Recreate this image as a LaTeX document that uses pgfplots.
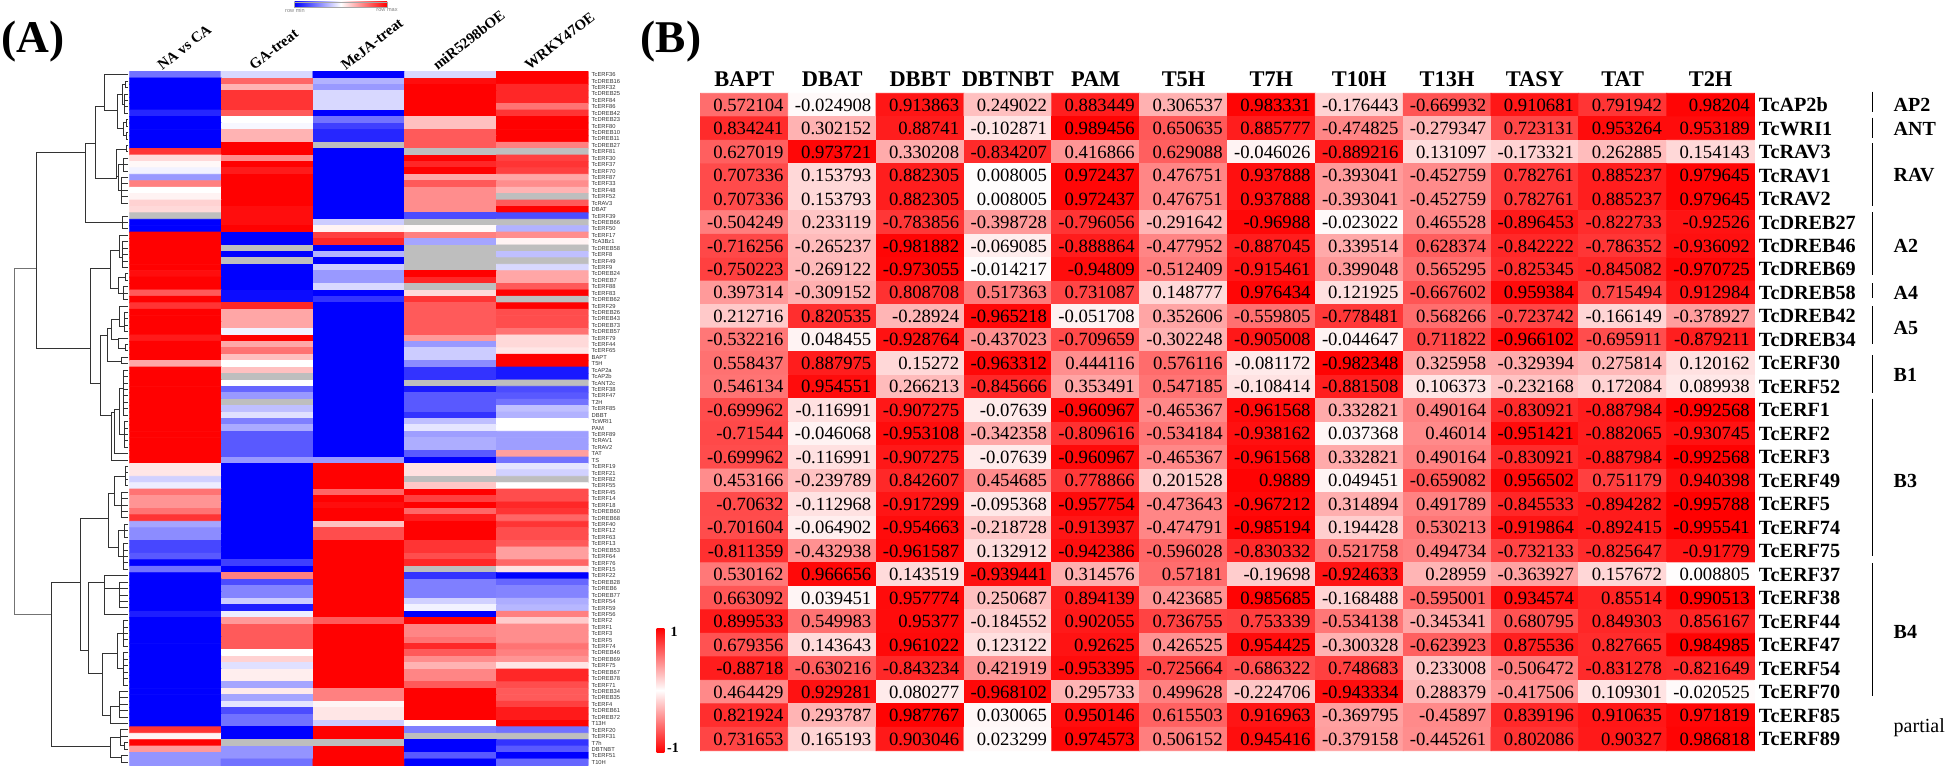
\documentclass[border=0pt]{standalone}
\usepackage{pgfplots}
\usepackage{pgfplotstable}
\usepackage{fontspec}
\pgfplotsset{compat=1.18}
\setmainfont{Liberation Serif}
\newfontfamily\sansf{Liberation Sans}
% colormap of panel A: -3 is "no value" (grey), -1 blue, 0 white, 1 red
\pgfplotsset{colormap={ha}{rgb255=(190,190,190) rgb255=(190,190,190) rgb255=(0,0,255) rgb255=(255,255,255) rgb255=(255,0,0)}}
\pgfplotsset{colormap={hb}{rgb255=(255,0,0) rgb255=(255,255,255) rgb255=(255,0,0)}}
% panel A, one line per row, five values per line; -3 = grey
\pgfplotstableread[row sep=\\]{v\\
-0.55\\-0.15\\-1\\-0.15\\1\\
-1\\0.6\\-0.3\\0.95\\1\\
-1\\0.3\\-0.4\\1\\0.85\\
-1\\0.8\\-0.15\\1\\0.85\\
-1\\0.8\\-0.15\\1\\0.85\\
-1\\0.8\\-0.15\\1\\0.55\\
-0.85\\0.65\\-1\\1\\0.8\\
-1\\0\\-0.55\\0.25\\1\\
-1\\-0.03\\-0.75\\0.25\\1\\
-1\\0.3\\-0.85\\0.65\\1\\
-1\\0.3\\-0.85\\0.65\\1\\
-1\\1\\-3\\0.65\\0.5\\
0.8\\1\\-1\\-3\\-3\\
0.15\\0.45\\-1\\1\\0.75\\
0.03\\1\\-1\\0.85\\0.8\\
-0.05\\0.9\\-1\\1\\0.75\\
-0.4\\1\\-1\\0.35\\0.35\\
0.5\\1\\-1\\0.65\\0.45\\
0\\1\\-1\\0.45\\0.3\\
0.05\\1\\-1\\0.45\\-3\\
0.18\\1\\-1\\0.45\\0.65\\
0.15\\0.95\\-1\\0.45\\1\\
-3\\0.95\\-1\\-0.7\\-0.7\\
-1\\0.95\\-0.2\\-3\\-3\\
-1\\1\\0.05\\0.02\\-0.3\\
1\\-1\\0.75\\0.5\\0.45\\
1\\-1\\0.85\\-0.35\\0.05\\
1\\-3\\-1\\-3\\-3\\
1\\-1\\-0.3\\-3\\-0.25\\
1\\-3\\-1\\-3\\-3\\
1\\-1\\-0.2\\-3\\-0.15\\
0.95\\-1\\-0.4\\1\\0.35\\
1\\-1\\-0.4\\0.85\\0.35\\
1\\-1\\-0.15\\-3\\0.65\\
0.65\\-0.95\\-1\\0.15\\1\\
1\\-0.95\\-0.8\\0.8\\-3\\
0.8\\0.85\\-1\\0.65\\1\\
1\\0.35\\-1\\0.65\\0.7\\
1\\0.35\\-1\\0.65\\0.7\\
1\\0.35\\-1\\0.65\\0.7\\
1\\-0.05\\-1\\0.65\\0.55\\
0.9\\1\\-1\\0.4\\0.15\\
1\\0.35\\-1\\-0.4\\0.15\\
1\\0.55\\-1\\-0.2\\0.1\\
1\\0.25\\-1\\-0.2\\1\\
0.35\\0\\-1\\-0.45\\1\\
1\\0.25\\-1\\-0.8\\-0.9\\
1\\-3\\-1\\-0.8\\-0.9\\
1\\0\\-1\\-3\\-3\\
1\\-0.6\\-1\\-0.9\\-0.7\\
1\\-0.4\\-1\\-0.65\\-0.65\\
1\\-3\\-1\\-0.65\\-0.55\\
1\\-0.25\\-1\\-0.65\\-0.25\\
1\\-0.12\\-1\\-0.8\\-0.3\\
1\\-0.5\\-1\\-0.25\\0\\
1\\-0.33\\-1\\-0.1\\0\\
1\\-0.65\\-1\\-0.38\\-0.38\\
1\\-0.65\\-1\\-0.32\\-0.38\\
1\\-0.65\\-1\\-0.32\\-0.38\\
1\\-0.65\\-1\\-0.65\\0.38\\
1\\-0.4\\-0.4\\-1\\-0.55\\
0.1\\-1\\1\\0.12\\-0.1\\
0.1\\-1\\1\\0.12\\-0.18\\
-0.18\\-1\\1\\-3\\-3\\
-0.07\\-1\\1\\0.22\\0\\
0.55\\-1\\0.6\\1\\0.7\\
0.42\\-1\\1\\0.75\\0.7\\
0.42\\-1\\0.95\\1\\0.85\\
0.55\\-1\\1\\0.6\\0.8\\
0.8\\-1\\1\\0.9\\0.6\\
-0.35\\-1\\0.25\\1\\0.8\\
-0.45\\-1\\0.7\\1\\0.7\\
-0.45\\-1\\0.7\\1\\0.7\\
-0.72\\-1\\1\\0.8\\0.65\\
-0.72\\-1\\1\\0.8\\0.38\\
-0.65\\-1\\1\\0.7\\0.38\\
-1\\-0.75\\1\\0.85\\0.6\\
-0.55\\-1\\1\\-3\\0.12\\
-1\\0.5\\1\\-0.8\\-1\\
-1\\-0.7\\1\\-0.5\\-0.6\\
-1\\-0.48\\1\\-0.5\\-0.48\\
-1\\-0.48\\1\\-0.5\\-0.48\\
-1\\-0.2\\1\\-0.18\\-0.32\\
-1\\-0.88\\1\\-0.05\\-0.28\\
-0.88\\-0.07\\1\\-1\\0.5\\
-1\\0.4\\0.65\\1\\0.2\\
-1\\0.65\\1\\0.48\\0.45\\
-1\\0.65\\1\\0.48\\0.45\\
-1\\0.65\\1\\0.55\\0.45\\
-1\\0.65\\1\\0.85\\0.55\\
-1\\0\\1\\0.65\\0.5\\
-1\\0.18\\1\\0.45\\0.42\\
-1\\-0.12\\1\\0.3\\0.1\\
-1\\0.07\\1\\0.48\\0.85\\
-1\\0.07\\1\\0.48\\0.85\\
-1\\-0.35\\1\\0.65\\0.7\\
-1\\0.08\\0.5\\1\\0.65\\
-1\\-0.35\\0.5\\1\\0.65\\
-1\\-0.1\\0.04\\1\\0.75\\
-1\\-0.7\\0.1\\1\\0.9\\
-1\\-0.55\\0.1\\1\\0.9\\
-1\\-0.55\\-0.2\\0\\1\\
0.8\\-1\\1\\-0.5\\-0.55\\
0.04\\-1\\1\\-3\\-3\\
1\\-3\\-3\\-1\\-0.8\\
0.4\\-0.42\\1\\-1\\-0.65\\
-0.42\\-0.42\\1\\-0.65\\-1\\
-0.42\\-0.55\\1\\-1\\-0.6\\
}\tabA
\pgfplotstablecreatecol[expr={floor((\pgfplotstablerow+0.5)/5)}]{cy}{\tabA}
\pgfplotstablecreatecol[expr={round(\pgfplotstablerow-5*\thisrow{cy})}]{cx}{\tabA}
% panel B, one line per row, twelve values per line
\pgfplotstableread[row sep=\\]{v\\
0.572104\\-0.024908\\0.913863\\0.249022\\0.883449\\0.306537\\0.983331\\-0.176443\\-0.669932\\0.910681\\0.791942\\0.98204\\
0.834241\\0.302152\\0.88741\\-0.102871\\0.989456\\0.650635\\0.885777\\-0.474825\\-0.279347\\0.723131\\0.953264\\0.953189\\
0.627019\\0.973721\\0.330208\\-0.834207\\0.416866\\0.629088\\-0.046026\\-0.889216\\0.131097\\-0.173321\\0.262885\\0.154143\\
0.707336\\0.153793\\0.882305\\0.008005\\0.972437\\0.476751\\0.937888\\-0.393041\\-0.452759\\0.782761\\0.885237\\0.979645\\
0.707336\\0.153793\\0.882305\\0.008005\\0.972437\\0.476751\\0.937888\\-0.393041\\-0.452759\\0.782761\\0.885237\\0.979645\\
-0.504249\\0.233119\\-0.783856\\-0.398728\\-0.796056\\-0.291642\\-0.96988\\-0.023022\\0.465528\\-0.896453\\-0.822733\\-0.92526\\
-0.716256\\-0.265237\\-0.981882\\-0.069085\\-0.888864\\-0.477952\\-0.887045\\0.339514\\0.628374\\-0.842222\\-0.786352\\-0.936092\\
-0.750223\\-0.269122\\-0.973055\\-0.014217\\-0.94809\\-0.512409\\-0.915461\\0.399048\\0.565295\\-0.825345\\-0.845082\\-0.970725\\
0.397314\\-0.309152\\0.808708\\0.517363\\0.731087\\0.148777\\0.976434\\0.121925\\-0.667602\\0.959384\\0.715494\\0.912984\\
0.212716\\0.820535\\-0.28924\\-0.965218\\-0.051708\\0.352606\\-0.559805\\-0.778481\\0.568266\\-0.723742\\-0.166149\\-0.378927\\
-0.532216\\0.048455\\-0.928764\\-0.437023\\-0.709659\\-0.302248\\-0.905008\\-0.044647\\0.711822\\-0.966102\\-0.695911\\-0.879211\\
0.558437\\0.887975\\0.15272\\-0.963312\\0.444116\\0.576116\\-0.081172\\-0.982348\\0.325958\\-0.329394\\0.275814\\0.120162\\
0.546134\\0.954551\\0.266213\\-0.845666\\0.353491\\0.547185\\-0.108414\\-0.881508\\0.106373\\-0.232168\\0.172084\\0.089938\\
-0.699962\\-0.116991\\-0.907275\\-0.07639\\-0.960967\\-0.465367\\-0.961568\\0.332821\\0.490164\\-0.830921\\-0.887984\\-0.992568\\
-0.71544\\-0.046068\\-0.953108\\-0.342358\\-0.809616\\-0.534184\\-0.938162\\0.037368\\0.46014\\-0.951421\\-0.882065\\-0.930745\\
-0.699962\\-0.116991\\-0.907275\\-0.07639\\-0.960967\\-0.465367\\-0.961568\\0.332821\\0.490164\\-0.830921\\-0.887984\\-0.992568\\
0.453166\\-0.239789\\0.842607\\0.454685\\0.778866\\0.201528\\0.9889\\0.049451\\-0.659082\\0.956502\\0.751179\\0.940398\\
-0.70632\\-0.112968\\-0.917299\\-0.095368\\-0.957754\\-0.473643\\-0.967212\\0.314894\\0.491789\\-0.845533\\-0.894282\\-0.995788\\
-0.701604\\-0.064902\\-0.954663\\-0.218728\\-0.913937\\-0.474791\\-0.985194\\0.194428\\0.530213\\-0.919864\\-0.892415\\-0.995541\\
-0.811359\\-0.432938\\-0.961587\\0.132912\\-0.942386\\-0.596028\\-0.830332\\0.521758\\0.494734\\-0.732133\\-0.825647\\-0.91779\\
0.530162\\0.966656\\0.143519\\-0.939441\\0.314576\\0.57181\\-0.19698\\-0.924633\\0.28959\\-0.363927\\0.157672\\0.008805\\
0.663092\\0.039451\\0.957774\\0.250687\\0.894139\\0.423685\\0.985685\\-0.168488\\-0.595001\\0.934574\\0.85514\\0.990513\\
0.899533\\0.549983\\0.95377\\-0.184552\\0.902055\\0.736755\\0.753339\\-0.534138\\-0.345341\\0.680795\\0.849303\\0.856167\\
0.679356\\0.143643\\0.961022\\0.123122\\0.92625\\0.426525\\0.954425\\-0.300328\\-0.623923\\0.875536\\0.827665\\0.984985\\
-0.88718\\-0.630216\\-0.843234\\0.421919\\-0.953395\\-0.725664\\-0.686322\\0.748683\\0.233008\\-0.506472\\-0.831278\\-0.821649\\
0.464429\\0.929281\\0.080277\\-0.968102\\0.295733\\0.499628\\-0.224706\\-0.943334\\0.288379\\-0.417506\\0.109301\\-0.020525\\
0.821924\\0.293787\\0.987767\\0.030065\\0.950146\\0.615503\\0.916963\\-0.369795\\-0.45897\\0.839196\\0.910635\\0.971819\\
0.731653\\0.165193\\0.903046\\0.023299\\0.974573\\0.506152\\0.945416\\-0.379158\\-0.445261\\0.802086\\0.90327\\0.986818\\
}\tabB
\pgfplotstablecreatecol[expr={floor((\pgfplotstablerow+0.5)/12)}]{cy}{\tabB}
\pgfplotstablecreatecol[expr={round(\pgfplotstablerow-12*\thisrow{cy})}]{cx}{\tabB}
\begin{document}
\begin{tikzpicture}
\path[use as bounding box] (0pt,0pt) rectangle (973pt,384pt);
% panel letters
\node[font=\bfseries\fontsize{22.7}{24}\selectfont,inner sep=0pt] at (16.5pt,363pt) {(A)};
\node[font=\bfseries\fontsize{22.7}{24}\selectfont,inner sep=0pt] at (335.5pt,363pt) {(B)};
% top colour key
\shade[left color=blue,right color=red,middle color=white,draw=gray!70,line width=0.3pt] (147.3pt,380.25pt) rectangle (193.5pt,383pt);
\node[font=\sansf\fontsize{2.8}{3}\selectfont,text=gray,inner sep=0pt] at (147.5pt,379pt) {row min};
\node[font=\sansf\fontsize{2.8}{3}\selectfont,text=gray,inner sep=0pt] at (193.5pt,379pt) {row max};
% dendrogram
\begin{axis}[name=dend,at={(0pt,348.25pt)},anchor=north west,scale only axis,width=65pt,height=346.95pt,
  xmin=0,xmax=390,ymin=3.4,ymax=1561.7,y dir=reverse,axis lines=none,clip=false]
\addplot[line width=0.45pt,color=black!55,unbounded coords=jump] coordinates {(109,445)(42,445)(42,1223)(155,1223)};
\addplot[line width=0.5pt,color=black!80,unbounded coords=jump] coordinates {
(257,185)(109,185)(109,625)(270,625)(nan,nan)
(285,165)(257,165)(257,343)(367,343)(nan,nan)
(313,83)(285,83)(285,243)(350,243)(nan,nan)
(385,10.6)(313,10.6)(313,90)(352,90)(nan,nan)
(367,55)(352,55)(352,132)(370,132)(nan,nan)
(385,25)(375,25)(375,40)(385,40)(nan,nan)
(375,32)(367,32)(367,78)(372,78)(nan,nan)
(385,54)(372,54)(372,97)(385,97)(nan,nan)
(385,68)(372,68)(nan,nan)(385,83)(372,83)(nan,nan)
(385,112)(378,112)(378,126)(385,126)(nan,nan)
(378,118)(370,118)(370,147)(378,147)(nan,nan)
(385,140)(378,140)(378,155)(385,155)(nan,nan)
(385,169.3)(380,169.3)(380,183.7)(385,183.7)(nan,nan)
(380,178)(350,178)(350,243)(nan,nan)
(385,198)(370,198)(370,227)(385,227)(nan,nan)
(385,212.6)(355,212.6)(355,270)(365,270)(nan,nan)
(350,240)(355,240)(nan,nan)
(385,241)(365,241)(365,300)(385,300)(nan,nan)
(365,256)(385,256)(nan,nan)(365,270)(385,270)(nan,nan)(365,285)(385,285)(nan,nan)
(385,328)(367,328)(367,357)(385,357)(nan,nan)(367,342.5)(385,342.5)(nan,nan)
(332,445)(270,445)(270,705)(302,705)(nan,nan)
(357,405)(332,405)(332,490)(354,490)(nan,nan)
(385,371)(357,371)(357,420)(368,420)(nan,nan)
(385,386)(368,386)(368,443.5)(385,443.5)(nan,nan)
(368,400)(385,400)(nan,nan)(368,414.6)(385,414.6)(nan,nan)(368,429)(385,429)(nan,nan)
(385,458)(375,458)(375,472)(385,472)(nan,nan)
(375,465)(354,465)(354,501)(370,501)(nan,nan)
(385,487)(370,487)(370,516)(385,516)(nan,nan)(370,501)(385,501)(nan,nan)
(323,597)(302,597)(302,777)(333,777)(nan,nan)
(333,580)(323,580)(323,655)(365,655)(nan,nan)
(358,560)(333,560)(333,605)(354,605)(nan,nan)
(385,530)(358,530)(358,575)(372,575)(nan,nan)
(385,544)(372,544)(372,588)(385,588)(nan,nan)(372,559)(385,559)(nan,nan)(372,573)(385,573)(nan,nan)
(385,602)(354,602)(354,625)(375,625)(nan,nan)
(385,617)(375,617)(375,631)(385,631)(nan,nan)
(385,645.5)(365,645.5)(365,660)(385,660)(nan,nan)
(344,770)(333,770)(333,876)(385,876)(nan,nan)
(357,762)(344,762)(344,862)(385,862)(nan,nan)
(370,715)(357,715)(357,818)(372,818)(nan,nan)
(385,674)(370,674)(370,775)(385,775)(nan,nan)
(370,689)(385,689)(nan,nan)(370,703)(385,703)(nan,nan)(370,718)(385,718)(nan,nan)(370,732)(385,732)(nan,nan)(370,746.5)(385,746.5)(nan,nan)(370,761)(385,761)(nan,nan)
(385,790)(372,790)(372,847.5)(385,847.5)(nan,nan)(372,804)(385,804)(nan,nan)(372,819)(385,819)(nan,nan)(372,833)(385,833)(nan,nan)
(242,1152)(155,1152)(155,1520)(332,1520)(nan,nan)
(326,1008)(242,1008)(242,1303)(264,1303)(nan,nan)
(342,950)(326,950)(326,1073)(356,1073)(nan,nan)
(375,912)(342,912)(342,978)(365,978)(nan,nan)
(385,891)(375,891)(375,934)(385,934)(nan,nan)(375,905)(385,905)(nan,nan)(375,919.6)(385,919.6)(nan,nan)
(385,948.5)(365,948.5)(365,1006)(385,1006)(nan,nan)(365,963)(385,963)(nan,nan)(365,977)(385,977)(nan,nan)(365,992)(385,992)(nan,nan)
(372,1035)(356,1035)(356,1092)(370,1092)(nan,nan)
(385,1020.7)(372,1020.7)(372,1049.5)(385,1049.5)(nan,nan)(372,1035)(385,1035)(nan,nan)
(385,1064)(370,1064)(370,1121.6)(385,1121.6)(nan,nan)(370,1078)(385,1078)(nan,nan)(370,1092.8)(385,1092.8)(nan,nan)(370,1107)(385,1107)(nan,nan)
(313,1152)(264,1152)(264,1355)(308,1355)(nan,nan)
(385,1136)(313,1136)(313,1223)(385,1223)(nan,nan)
(313,1165)(358,1165)(nan,nan)
(385,1150.5)(358,1150.5)(358,1208)(385,1208)(nan,nan)(358,1165)(385,1165)(nan,nan)(358,1179)(385,1179)(nan,nan)(358,1194)(385,1194)(nan,nan)
(352,1310)(308,1310)(308,1449)(330,1449)(nan,nan)
(370,1266)(352,1266)(352,1345)(370,1345)(nan,nan)
(385,1237)(370,1237)(370,1295)(385,1295)(nan,nan)(370,1251.5)(385,1251.5)(nan,nan)(370,1266)(385,1266)(nan,nan)(370,1280)(385,1280)(nan,nan)
(385,1309)(370,1309)(370,1381.4)(385,1381.4)(nan,nan)(370,1324)(385,1324)(nan,nan)(370,1338)(385,1338)(nan,nan)(370,1352.6)(385,1352.6)(nan,nan)(370,1367)(385,1367)(nan,nan)
(358,1430)(330,1430)(330,1468)(385,1468)(nan,nan)
(385,1396)(358,1396)(358,1454)(385,1454)(nan,nan)(358,1410)(385,1410)(nan,nan)(358,1424.7)(385,1424.7)(nan,nan)(358,1439)(385,1439)(nan,nan)
(360,1500)(332,1500)(332,1545)(363,1545)(nan,nan)
(385,1482)(360,1482)(360,1518)(372,1518)(nan,nan)
(360,1497)(385,1497)(nan,nan)
(385,1511)(372,1511)(372,1525.7)(385,1525.7)(nan,nan)
(385,1540)(363,1540)(363,1554.6)(385,1554.6)
};
\end{axis}
% panel A heat map
\begin{axis}[name=heatA,at={(64.65pt,348.25pt)},anchor=north west,scale only axis,width=229.5pt,height=346.95pt,
  xmin=-0.5,xmax=4.5,ymin=-0.5,ymax=107.5,y dir=reverse,
  colormap name=ha,point meta min=-3,point meta max=1,
  axis line style={draw=none},tick style={draw=none},
  xtick={0,...,4},xticklabel pos=upper,
  xticklabels={NA vs CA,GA-treat,MeJA-treat,miR5298bOE,WRKY47OE},
  xticklabel style={font=\bfseries\fontsize{7.4}{8}\selectfont,rotate=38,anchor=south west,inner sep=0pt,xshift=-5pt,yshift=4pt},
  ytick={0,...,107},yticklabel pos=right,
  yticklabels={TcERF36,TcDREB16,TcERF32,TcDREB25,TcERF84,TcERF86,TcDREB42,TcDREB23,TcERF80,TcDREB10,TcDREB11,TcDREB27,TcERF81,TcERF30,TcERF37,TcERF70,TcERF87,TcERF33,TcERF48,TcERF52,TcRAV3,DBAT,TcERF39,TcDREB66,TcERF50,TcERF17,TcA3Bz1,TcDREB58,TcERF8,TcERF49,TcERF9,TcDREB24,TcDREB7,TcERF88,TcERF83,TcDREB62,TcERF29,TcDREB26,TcDREB43,TcDREB73,TcDREB57,TcERF79,TcERF44,TcERF65,BAPT,T5H,TcAP2a,TcAP2b,TcANT2c,TcERF38,TcERF47,T2H,TcERF85,DBBT,TcWRI1,PAM,TcERF89,TcRAV1,TcRAV2,TAT,TS,TcERF19,TcERF21,TcERF82,TcERF55,TcERF45,TcERF14,TcERF18,TcDREB60,TcDREB68,TcERF40,TcERF12,TcERF63,TcERF13,TcDREB53,TcERF64,TcERF76,TcERF15,TcERF22,TcDREB28,TcDREB6,TcDREB77,TcERF54,TcERF59,TcERF56,TcERF2,TcERF1,TcERF3,TcERF5,TcERF74,TcDREB46,TcDREB69,TcERF75,TcDREB67,TcDREB78,TcERF71,TcDREB34,TcDREB35,TcERF4,TcDREB61,TcDREB72,T13H,TcERF20,TcERF31,T7h,DBTNBT,TcERF51,T10H},
  yticklabel style={font=\sansf\fontsize{2.9}{3}\selectfont,anchor=west,inner sep=0pt,xshift=1.5pt,text=black!80}]
\addplot[matrix plot*,point meta=explicit,mesh/cols=5] table[x=cx,y=cy,meta=v] {\tabA};
\end{axis}
% panel B heat map
\begin{axis}[name=heatB,at={(350.2pt,337.35pt)},anchor=north west,scale only axis,width=527.05pt,height=328.7pt,
  xmin=-0.5,xmax=11.5,ymin=-0.5,ymax=27.5,y dir=reverse,clip=false,
  colormap name=hb,point meta min=-1,point meta max=1,
  axis line style={draw=none},tick style={draw=none},
  xtick={0,...,11},xticklabel pos=upper,
  xticklabels={BAPT,DBAT,DBBT,DBTNBT,PAM,T5H,T7H,T10H,T13H,TASY,TAT,T2H},
  xticklabel style={font=\bfseries\fontsize{11.2}{12}\selectfont},
  ytick={0,...,27},yticklabel pos=right,
  yticklabels={TcAP2b,TcWRI1,TcRAV3,TcRAV1,TcRAV2,TcDREB27,TcDREB46,TcDREB69,TcDREB58,TcDREB42,TcDREB34,TcERF30,TcERF52,TcERF1,TcERF2,TcERF3,TcERF49,TcERF5,TcERF74,TcERF75,TcERF37,TcERF38,TcERF44,TcERF47,TcERF54,TcERF70,TcERF85,TcERF89},
  yticklabel style={font=\bfseries\fontsize{10.1}{11}\selectfont,anchor=west,inner sep=0pt,xshift=2pt}]
\addplot[matrix plot*,point meta=explicit,mesh/cols=12] table[x=cx,y=cy,meta=v] {\tabB};
\addplot[only marks,mark=none,point meta=explicit symbolic,
  nodes near coords={\pgfplotspointmeta},nodes near coords align={anchor=east},
  every node near coord/.append style={font=\fontsize{9.35}{10}\selectfont,inner sep=0pt,text=black}]
  table[x expr={\thisrow{cx}+0.45},y=cy,meta=v] {\tabB};
% group brackets
\addplot[line width=0.7pt,black,unbounded coords=jump] coordinates {
(12.846,-0.57)(12.846,0.28)(nan,nan)
(12.846,0.54)(12.846,1.39)(nan,nan)
(12.846,1.63)(12.846,4.3)(nan,nan)
(12.846,4.57)(12.846,7.25)(nan,nan)
(12.846,7.6)(12.846,8.2)(nan,nan)
(12.846,8.56)(12.846,10.17)(nan,nan)
(12.846,10.65)(12.846,12.26)(nan,nan)
(12.846,12.5)(12.846,19.2)(nan,nan)
(12.846,19.5)(12.846,25.15)};
\foreach \lab/\yy in {AP2/0,ANT/1,RAV/3,A2/6,A4/8,A5/9.5,B1/11.5,B3/16,B4/22.44}{
  \edef\tmp{\noexpand\node[anchor=west,inner sep=0pt,font=\noexpand\bfseries\noexpand\fontsize{10}{11}\noexpand\selectfont] at (axis cs:13.08,\yy) {\lab};}\tmp}
\node[anchor=west,inner sep=0pt,font=\fontsize{10}{11}\selectfont] at (axis cs:13.08,26.5) {partial};
\end{axis}
% colour key of panel B
\shade[top color=red,bottom color=white] (328.35pt,38.85pt) rectangle (332.15pt,70pt);
\shade[top color=white,bottom color=red] (328.35pt,7.65pt) rectangle (332.15pt,38.85pt);
\node[font=\bfseries\fontsize{7}{8}\selectfont,inner sep=0pt] at (337pt,68.15pt) {1};
\node[font=\bfseries\fontsize{7}{8}\selectfont,inner sep=0pt] at (336.5pt,10pt) {-1};
\end{tikzpicture}
\end{document}
